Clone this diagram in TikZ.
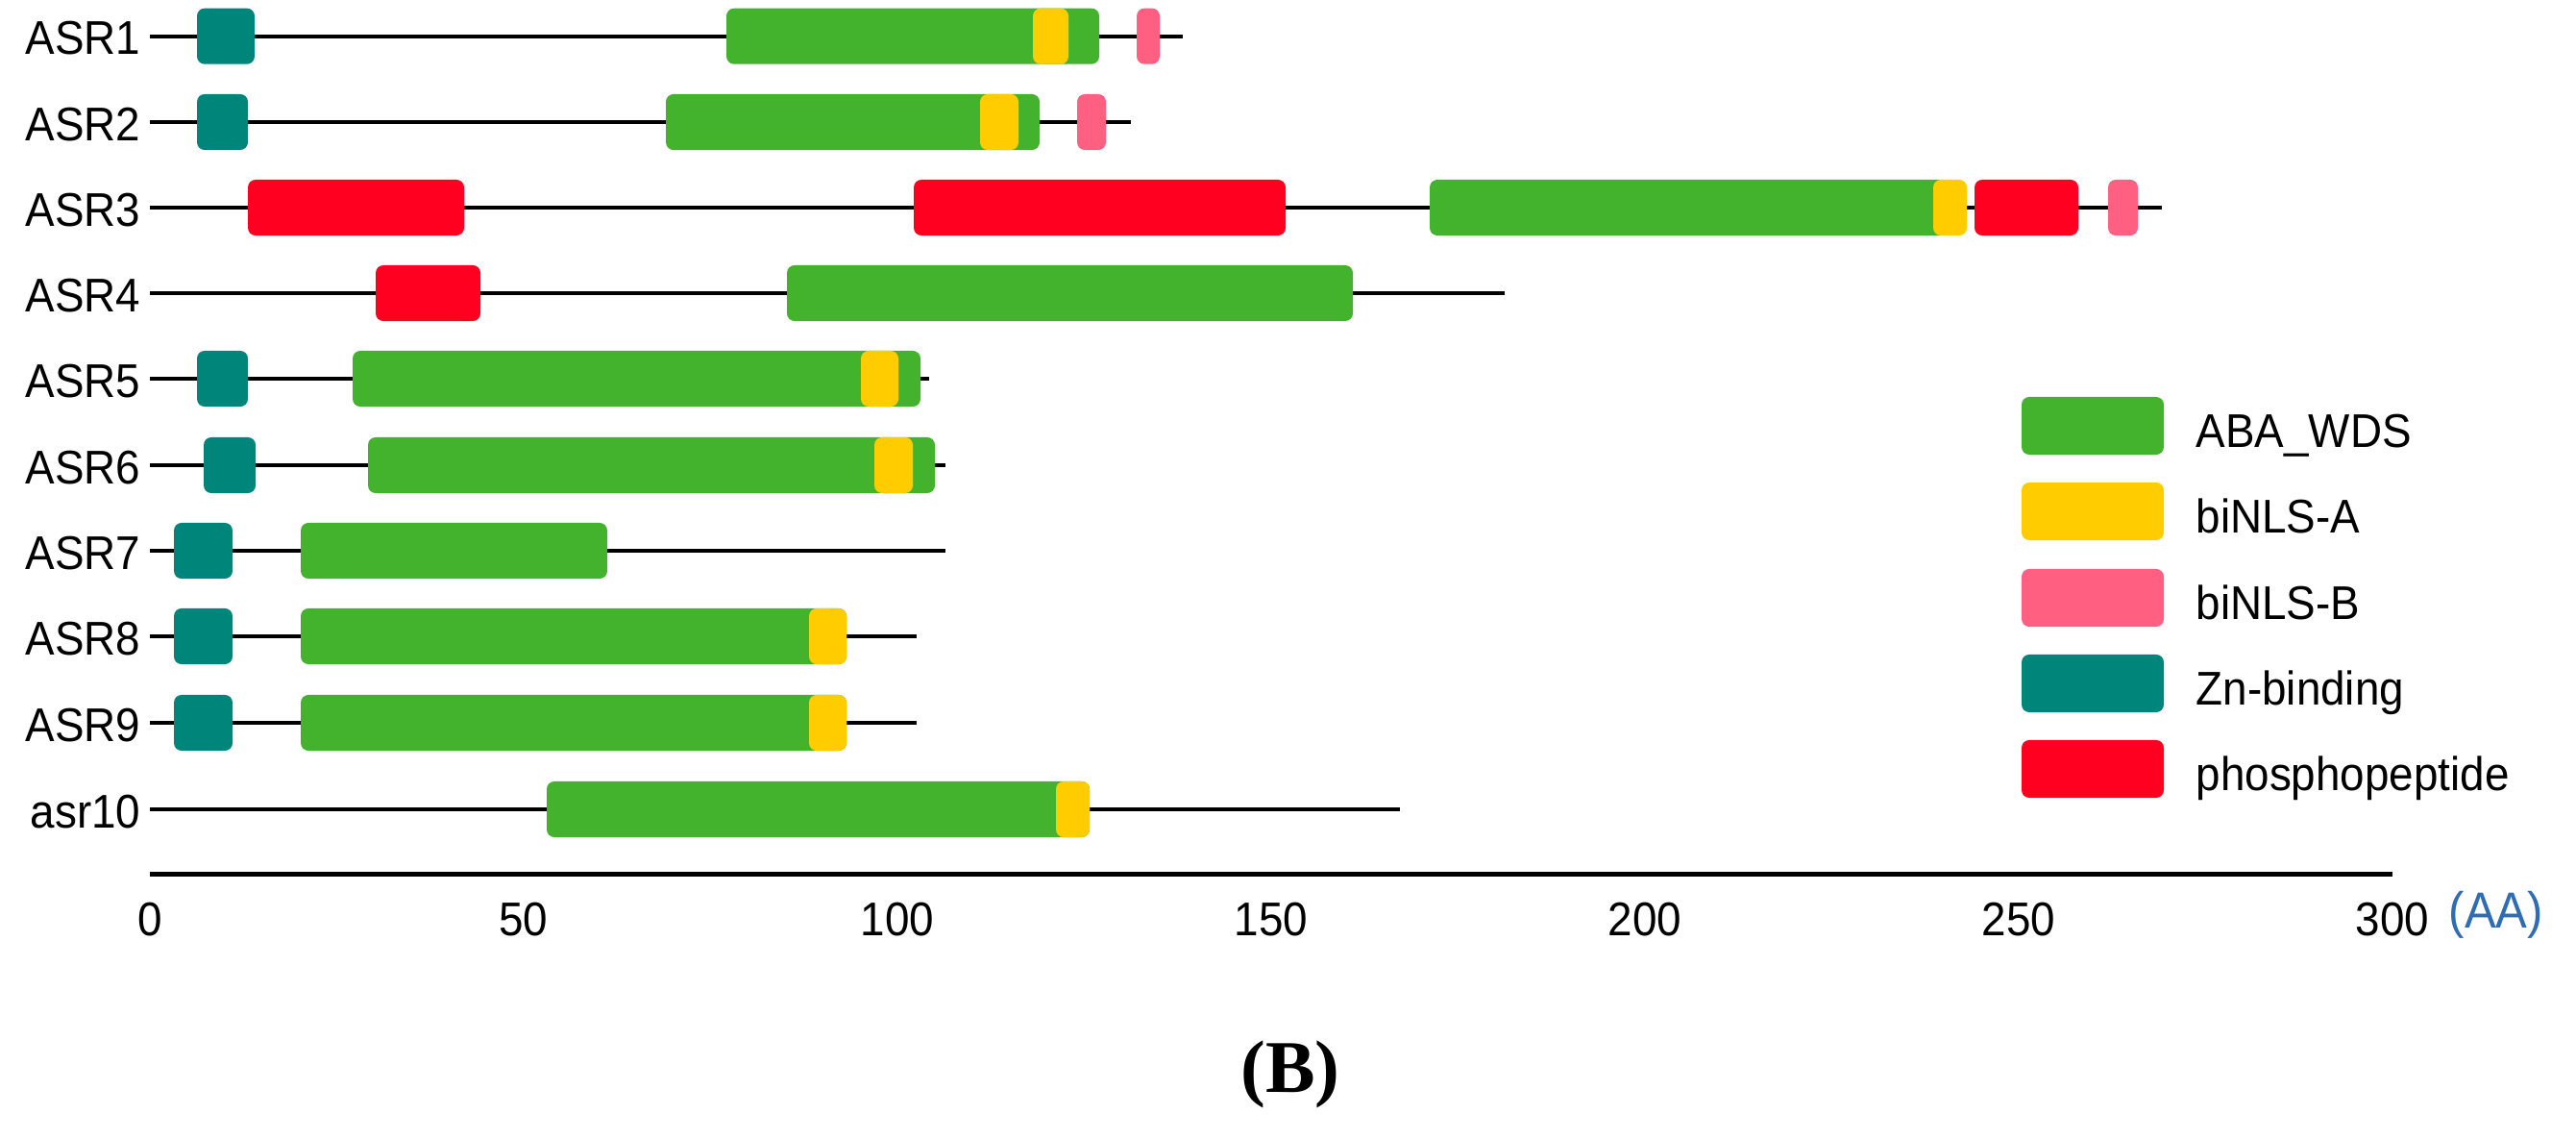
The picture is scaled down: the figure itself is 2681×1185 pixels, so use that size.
\documentclass[tikz,border=0pt]{standalone}
\usepackage{fontspec}
\setmainfont{Liberation Sans}[FakeStretch=0.93]
\newfontfamily\capfont{Liberation Serif}
\definecolor{cgreen}{RGB}{67,178,45}
\definecolor{cyellow}{RGB}{255,204,0}
\definecolor{cpink}{RGB}{255,95,128}
\definecolor{cteal}{RGB}{0,133,122}
\definecolor{cred}{RGB}{255,0,32}
\definecolor{cblue}{RGB}{46,109,180}
\tikzset{
  dom/.style={draw=none,inner sep=0pt,outer sep=0pt,minimum height=0.58cm,rounded corners=0.08cm},
  gdom/.style={dom,fill=cgreen},
  ydom/.style={dom,fill=cyellow},
  pdom/.style={dom,fill=cpink},
  tdom/.style={dom,fill=cteal},
  rdom/.style={dom,fill=cred},
  bb/.style={line width=0.04cm,black},
  lbl/.style={font=\fontsize{14}{16}\selectfont,inner sep=0pt,anchor=base east},
  leglbl/.style={font=\fontsize{14}{16}\selectfont,inner sep=0pt,anchor=base west},
  ticklbl/.style={font=\fontsize{14}{16}\selectfont,inner sep=0pt,anchor=base},
}
\newcommand\dombox[5]{%
  \pgfmathsetlengthmacro\domw{(#3-#2)*0.01cm}%
  \node[#5,minimum width=\domw] (#1) at ({(#2+#3)/2},#4) {};}
\newcommand\backbone[3]{%
  \coordinate (#1s) at (156,#2); \coordinate (#1e) at (#3,#2);
  \draw[bb] (#1s) -- (#1e);}
\begin{document}
\begin{tikzpicture}[x=0.01cm,y=-0.01cm]
\useasboundingbox (0,0) rectangle (2681,1185);
% ASR1
\node[lbl] (l1) at (147,57) {ASR1};
\backbone{r1}{37.7}{1231}
\dombox{r1t}{205}{265}{37.7}{tdom}
\dombox{r1g}{756}{1144}{37.7}{gdom}
\dombox{r1y}{1075}{1112}{37.7}{ydom}
\dombox{r1p}{1183}{1207}{37.7}{pdom}
% ASR2
\node[lbl] (l2) at (147,146.5) {ASR2};
\backbone{r2}{127}{1177}
\dombox{r2t}{205}{258}{127}{tdom}
\dombox{r2g}{693}{1082}{127}{gdom}
\dombox{r2y}{1020}{1060}{127}{ydom}
\dombox{r2p}{1121}{1151}{127}{pdom}
% ASR3
\node[lbl] (l3) at (147,235.5) {ASR3};
\backbone{r3}{216}{2250}
\dombox{r3r1}{258}{483}{216}{rdom}
\dombox{r3r2}{951}{1338}{216}{rdom}
\dombox{r3g}{1488}{2030}{216}{gdom}
\dombox{r3y}{2012}{2047}{216}{ydom}
\dombox{r3r3}{2055}{2163}{216}{rdom}
\dombox{r3p}{2194}{2225}{216}{pdom}
% ASR4
\node[lbl] (l4) at (147,324.5) {ASR4};
\backbone{r4}{305}{1566}
\dombox{r4r}{391}{500}{305}{rdom}
\dombox{r4g}{819}{1408}{305}{gdom}
% ASR5
\node[lbl] (l5) at (147,413.5) {ASR5};
\backbone{r5}{394}{967}
\dombox{r5t}{205}{258}{394}{tdom}
\dombox{r5g}{367}{958}{394}{gdom}
\dombox{r5y}{896}{935}{394}{ydom}
% ASR6
\node[lbl] (l6) at (147,503.5) {ASR6};
\backbone{r6}{484}{984}
\dombox{r6t}{212}{266}{484}{tdom}
\dombox{r6g}{383}{973}{484}{gdom}
\dombox{r6y}{910}{950}{484}{ydom}
% ASR7
\node[lbl] (l7) at (147,592.5) {ASR7};
\backbone{r7}{573}{984}
\dombox{r7t}{181}{242}{573}{tdom}
\dombox{r7g}{313}{632}{573}{gdom}
% ASR8
\node[lbl] (l8) at (147,681.5) {ASR8};
\backbone{r8}{662}{954}
\dombox{r8t}{181}{242}{662}{tdom}
\dombox{r8g}{313}{881}{662}{gdom}
\dombox{r8y}{842}{881}{662}{ydom}
% ASR9
\node[lbl] (l9) at (147,771.5) {ASR9};
\backbone{r9}{752}{954}
\dombox{r9t}{181}{242}{752}{tdom}
\dombox{r9g}{313}{881}{752}{gdom}
\dombox{r9y}{842}{881}{752}{ydom}
% asr10
\node[lbl] (l10) at (147,861.5) {asr10};
\backbone{r10}{842}{1457}
\dombox{r10g}{569}{1134}{842}{gdom}
\dombox{r10y}{1099}{1134}{842}{ydom}
% legend
\dombox{kg}{2104}{2252}{443}{gdom,minimum height=0.6cm}
\dombox{ky}{2104}{2252}{532}{ydom,minimum height=0.6cm}
\dombox{kp}{2104}{2252}{622}{pdom,minimum height=0.6cm}
\dombox{kt}{2104}{2252}{711}{tdom,minimum height=0.6cm}
\dombox{kr}{2104}{2252}{800}{rdom,minimum height=0.6cm}
\node[leglbl] (kgl) at (2285,465) {ABA\_WDS};
\node[leglbl] (kyl) at (2285,554) {biNLS-A};
\node[leglbl] (kpl) at (2285,644) {biNLS-B};
\node[leglbl] (ktl) at (2285,733) {Zn-binding};
\node[leglbl] (krl) at (2285,822) {phosphopeptide};
% axis
\coordinate (ax0) at (156,909);
\coordinate (ax300) at (2490,909);
\draw[line width=0.05cm,black] (ax0) -- (ax300);
\foreach \v/\xx in {0/156,50/545,100/934,150/1323,200/1712,250/2101,300/2490}
  \node[ticklbl] (t\v) at (\xx,973) {\v};
\node[font=\fontsize{15}{17}\selectfont,text=cblue,inner sep=0pt,anchor=base west] (unit) at (2548,965) {(AA)};
\node[font=\capfont\bfseries\fontsize{22}{24}\selectfont,inner sep=0pt] (cap) at (1343,1118) {(B)};
\end{tikzpicture}
\end{document}
